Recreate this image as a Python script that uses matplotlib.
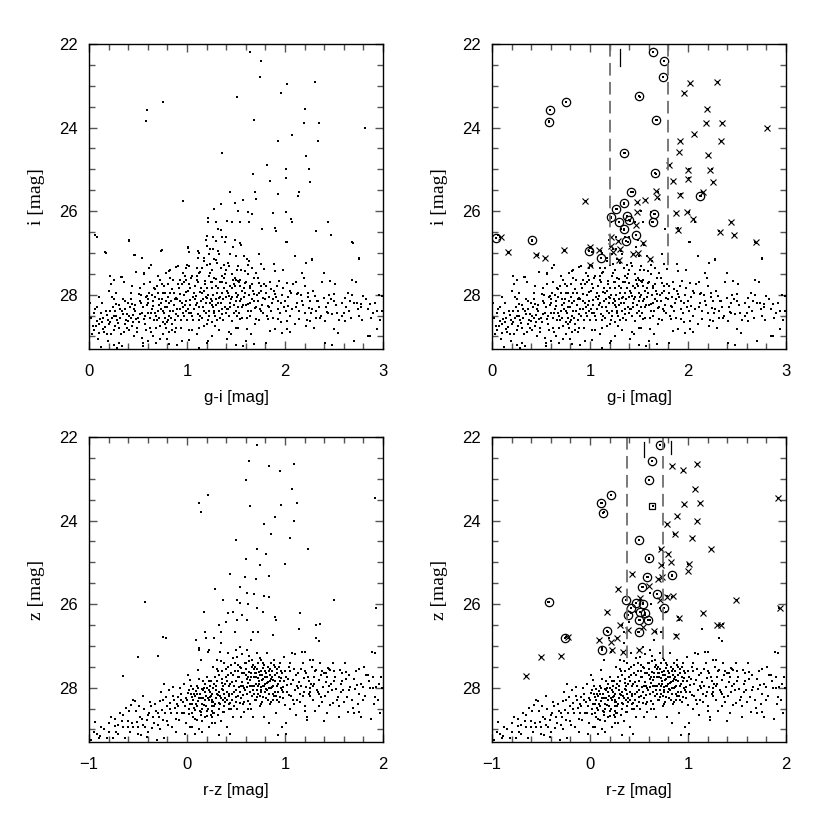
"""
Colour-magnitude diagrams: g-i vs i and r-z vs z, with the
selected candidates (circles, crosses) marked in the right panels.
"""

import numpy as np
import matplotlib
matplotlib.use("Agg")
import matplotlib.pyplot as plt
from matplotlib.ticker import MultipleLocator

plt.rcParams["font.serif"] = ["Liberation Serif", "DejaVu Serif"]
plt.rcParams["font.sans-serif"] = ["Liberation Sans", "DejaVu Sans"]

# ---- top row: g-i [mag], i [mag] -----------------------------------------
gi_i_sparse = [
    (1.64, 22.20), (1.76, 22.40), (1.74, 22.78), (2.02, 22.96), (2.31, 22.92),
    (1.96, 23.18), (1.51, 23.26), (0.76, 23.40), (0.59, 23.57), (0.58, 23.84),
    (2.20, 23.56), (1.68, 23.81), (2.19, 23.90), (2.35, 23.90), (2.82, 24.01),
    (2.07, 24.17), (1.93, 24.32), (2.34, 24.33), (1.36, 24.62), (2.21, 24.67),
    (1.82, 24.90), (2.01, 24.99), (1.67, 25.11), (2.01, 25.21), (1.85, 25.29),
    (2.24, 25.00), (2.25, 25.30), (2.14, 25.55), (2.13, 25.63), (1.69, 25.54),
    (1.70, 25.70), (1.44, 25.55), (1.93, 25.60), (0.96, 25.75), (1.57, 25.74),
    (1.49, 25.80), (1.35, 25.82), (1.28, 25.95), (1.52, 25.99), (1.62, 26.01),
    (1.66, 26.08), (1.88, 26.05), (2.01, 26.01), (2.06, 26.19), (2.07, 26.25),
    (1.21, 26.17), (1.21, 26.27), (1.30, 26.25), (1.41, 26.23), (1.46, 26.27),
    (1.54, 26.27), (1.63, 26.26), (1.77, 26.43), (1.90, 26.41), (1.91, 26.47),
    (1.32, 26.43), (1.35, 26.45), (2.44, 26.27), (2.32, 26.48), (2.47, 26.57),
    (1.20, 26.59), (1.27, 26.63), (1.36, 26.63), (1.40, 26.63), (1.49, 26.70),
    (2.01, 26.73), (2.68, 26.75), (0.08, 26.63), (0.06, 26.57), (0.41, 26.69),
    (0.16, 26.99), (0.46, 27.05), (0.54, 27.11), (0.74, 26.93), (1.01, 26.88),
    (1.02, 26.97), (1.12, 27.00), (1.20, 26.83), (1.23, 26.91), (1.32, 26.95),
    (1.47, 26.87), (2.10, 27.07), (2.28, 27.15), (2.75, 27.15), (0.21, 27.55),
    (0.33, 27.57), (0.26, 27.65), (0.48, 27.45), (0.61, 27.37), (0.56, 27.49),
    (0.83, 27.41), (0.83, 27.59), (0.89, 27.33), (0.99, 27.35), (1.00, 27.29),
    (1.11, 27.13), (1.30, 27.17), (1.61, 27.15), (1.54, 26.77), (1.44, 27.03),
]

gi_i_cloud = [
    (0.41, 26.71), (1.01, 26.85), (1.02, 26.97), (1.11, 26.95), (1.19, 26.69),
    (1.30, 26.71), (1.39, 26.73), (1.47, 26.87), (1.50, 27.07), (0.73, 26.95),
    (0.17, 27.00), (0.47, 27.05), (1.17, 27.11), (1.22, 27.03), (1.27, 26.91),
    (1.33, 27.03), (1.17, 27.19), (1.23, 27.27), (1.31, 27.23), (1.38, 27.29),
    (1.43, 27.32), (1.51, 27.40), (0.91, 27.31), (1.02, 27.32), (1.10, 27.36),
    (0.63, 27.29), (0.82, 27.43), (0.79, 27.47), (0.48, 27.45), (0.56, 27.51),
    (0.70, 27.56), (0.34, 27.57), (0.26, 27.64), (0.22, 27.75), (0.96, 27.48),
    (0.99, 27.64), (1.05, 27.55), (1.12, 27.47), (1.23, 27.47), (1.18, 27.67),
    (1.30, 27.63), (1.36, 27.55), (1.40, 27.71), (1.46, 27.51), (1.50, 27.64),
    (1.49, 27.79), (0.43, 27.95), (0.51, 27.99), (0.59, 28.03), (0.67, 27.87),
    (0.71, 28.11), (0.78, 27.95), (0.85, 27.87), (0.89, 28.07), (0.82, 28.19),
    (0.93, 27.99), (0.99, 27.93), (1.03, 28.12), (1.09, 28.03), (1.13, 27.93),
    (1.20, 28.07), (1.26, 28.15), (1.33, 28.07), (1.36, 27.95), (1.43, 28.04),
    (1.50, 28.15), (0.26, 28.11), (0.28, 28.23), (0.37, 28.15), (0.44, 28.23),
    (0.52, 28.15), (0.60, 28.20), (0.65, 28.27), (0.05, 28.43), (0.14, 28.55),
    (0.18, 28.49), (0.21, 28.39), (0.26, 28.51), (0.34, 28.39), (0.39, 28.47),
    (0.43, 28.55), (0.45, 28.49), (0.52, 28.47), (0.56, 28.59), (0.63, 28.43),
    (0.68, 28.52), (0.73, 28.35), (0.78, 28.55), (0.80, 28.65), (0.83, 28.39),
    (0.89, 28.47), (0.93, 28.35), (0.97, 28.51), (1.02, 28.43), (1.06, 28.60),
    (1.11, 28.47), (1.17, 28.39), (1.22, 28.51), (1.28, 28.39), (1.31, 28.60),
    (1.36, 28.47), (1.41, 28.35), (1.46, 28.63), (1.51, 28.51), (0.07, 28.75),
    (0.10, 28.92), (0.14, 28.83), (0.20, 28.71), (0.31, 28.79), (0.41, 28.84),
    (0.49, 28.89), (0.54, 29.03), (0.68, 28.79), (0.78, 28.71), (0.82, 28.89),
    (0.89, 28.79), (1.02, 28.84), (1.12, 28.79), (1.20, 28.71), (1.29, 28.76),
    (1.43, 28.89), (1.50, 28.79), (0.31, 29.15), (0.34, 29.24), (0.55, 29.24),
    (0.68, 29.15), (0.82, 29.19), (1.02, 29.08), (1.12, 29.27), (1.21, 29.10),
    (1.41, 29.07),
    (1.55, 26.81), (1.73, 27.03), (2.02, 26.73), (2.10, 27.07), (2.69, 26.77),
    (2.28, 27.17), (2.21, 27.24), (1.58, 27.07), (1.63, 27.19), (1.52, 27.31),
    (1.59, 27.43), (1.66, 27.37), (1.70, 27.47), (1.75, 27.27), (1.79, 27.39),
    (1.89, 27.27), (1.90, 27.43), (1.98, 27.41), (2.17, 27.49), (2.19, 27.59),
    (2.40, 27.47), (2.46, 27.67), (2.51, 27.75), (2.68, 27.64), (2.75, 27.13),
    (1.94, 27.67), (2.02, 27.71), (2.11, 27.69), (2.20, 27.79), (1.52, 27.67),
    (1.59, 27.71), (1.64, 27.79), (1.73, 27.71), (1.81, 27.79), (1.86, 27.87),
    (1.56, 27.91), (1.68, 27.99), (1.73, 27.95), (1.78, 28.07), (1.90, 27.99),
    (1.97, 28.01), (2.05, 27.91), (2.12, 27.99), (2.23, 27.95), (2.31, 28.03),
    (2.34, 28.15), (2.40, 28.07), (2.44, 28.19), (2.50, 27.99), (2.61, 28.07),
    (2.66, 28.15), (2.73, 28.19), (2.78, 28.23), (2.80, 28.03), (2.87, 28.23),
    (2.94, 28.39), (2.99, 28.39), (2.99, 28.03), (1.54, 28.15), (1.62, 28.23),
    (1.69, 28.31), (1.75, 28.39), (1.83, 28.27), (1.93, 28.35), (2.03, 28.27),
    (2.14, 28.39), (2.24, 28.31), (2.32, 28.39), (2.43, 28.41), (2.48, 28.47),
    (2.58, 28.51), (2.65, 28.39), (1.54, 28.59), (1.64, 28.51), (1.70, 28.59),
    (1.83, 28.57), (1.88, 28.55), (1.93, 28.59), (2.02, 28.63), (2.14, 28.59),
    (2.26, 28.63), (2.32, 28.55), (2.41, 28.63), (2.61, 28.63), (1.52, 28.79),
    (1.61, 28.83), (1.85, 28.87), (1.90, 28.81), (2.02, 28.83), (2.21, 28.76),
    (2.50, 28.81), (2.94, 28.83), (1.57, 29.23), (1.68, 29.19), (1.81, 29.16),
    (1.97, 28.92), (2.41, 29.16), (2.48, 29.21), (2.54, 28.92), (2.85, 29.00),
    (0.02, 28.55), (0.03, 28.95), (0.08, 28.62), (0.10, 28.70), (0.12, 28.45),
    (0.16, 28.78), (0.19, 28.60), (0.22, 28.95), (0.24, 28.30), (0.25, 29.20),
    (0.28, 28.50), (0.30, 28.68), (0.32, 28.55), (0.35, 28.47), (0.36, 28.90),
    (0.38, 28.60), (0.40, 28.62), (0.42, 28.30), (0.44, 28.75), (0.46, 29.00),
    (0.47, 28.40), (0.48, 28.58), (0.12, 29.25), (0.29, 29.28), (0.20, 27.90),
    (0.52, 27.85), (0.55, 28.30), (0.57, 28.70), (0.58, 28.05), (0.60, 28.45),
    (0.62, 27.70), (0.63, 28.90), (0.65, 28.15), (0.66, 28.60), (0.70, 27.95),
    (0.71, 28.25), (0.72, 28.75), (0.74, 28.10), (0.75, 28.40), (0.76, 28.95),
    (0.77, 27.80), (0.80, 28.30), (0.81, 28.05), (0.84, 28.55), (0.86, 27.65),
    (0.87, 28.25), (0.88, 28.90), (0.90, 28.10), (0.92, 27.85), (0.94, 28.60),
    (0.95, 28.20), (0.97, 28.00), (0.98, 27.55), (0.99, 28.40), (0.60, 29.10),
    (0.72, 29.05), (0.90, 29.20),
    (1.01, 27.90), (1.03, 28.25), (1.04, 27.60), (1.06, 28.05), (1.07, 28.35),
    (1.08, 27.80), (1.10, 28.20), (1.12, 28.60), (1.13, 27.45), (1.14, 28.15),
    (1.15, 27.95), (1.16, 28.30), (1.18, 27.75), (1.19, 28.45), (1.21, 28.00),
    (1.22, 27.55), (1.23, 28.20), (1.25, 27.85), (1.26, 28.65), (1.27, 28.30),
    (1.28, 27.60), (1.30, 28.10), (1.31, 27.95), (1.33, 28.40), (1.34, 27.70),
    (1.35, 28.20), (1.37, 28.60), (1.38, 27.85), (1.39, 27.50), (1.40, 28.05),
    (1.42, 28.35), (1.44, 27.80), (1.45, 28.10), (1.47, 27.65), (1.48, 28.45),
    (1.50, 27.95), (1.52, 28.30), (1.53, 27.70), (1.55, 28.10), (1.56, 28.55),
    (1.58, 27.85), (1.60, 28.25), (1.62, 27.50), (1.63, 28.00), (1.65, 28.40),
    (1.66, 27.75), (1.68, 28.15), (1.69, 28.70), (1.10, 28.95), (1.25, 29.00),
    (1.45, 28.95), (1.60, 29.10), (1.35, 27.35), (1.20, 27.30), (1.55, 27.40),
    (1.72, 27.60), (1.74, 28.35), (1.76, 27.90), (1.80, 28.10), (1.82, 28.50),
    (1.85, 27.70), (1.87, 28.20), (1.91, 28.05), (1.95, 28.45), (1.98, 27.85),
    (2.00, 28.15), (2.05, 28.50), (2.08, 27.75), (2.12, 28.20), (2.16, 28.00),
    (2.20, 28.45), (2.25, 28.15), (2.29, 27.90), (2.35, 28.30), (2.38, 27.70),
    (2.45, 28.00), (2.52, 28.25), (2.55, 28.60), (2.62, 28.30), (2.70, 28.20),
    (2.72, 27.70), (2.76, 28.50), (2.83, 28.10), (2.90, 28.45), (2.96, 28.00),
    (2.05, 28.90), (2.30, 28.80), (2.70, 29.10), (2.87, 29.00),
    (0.01, 28.20), (0.04, 28.75), (0.06, 28.35), (0.09, 29.05), (0.11, 28.58),
    (0.13, 28.20), (0.15, 28.90), (0.17, 28.40), (0.19, 29.10), (0.21, 28.65),
    (0.23, 28.05), (0.26, 28.85), (0.27, 28.40), (0.29, 28.60), (0.31, 28.25),
    (0.33, 28.95), (0.35, 28.10), (0.37, 28.35), (0.39, 28.80), (0.41, 28.50),
    (0.43, 28.10), (0.45, 28.65), (0.47, 28.25), (0.49, 28.80), (0.36, 27.70),
    (0.28, 27.95), (0.10, 28.05), (0.44, 27.80),
    (0.51, 28.65), (0.53, 28.00), (0.54, 28.45), (0.56, 27.75), (0.58, 28.85),
    (0.59, 28.25), (0.61, 27.95), (0.62, 28.55), (0.64, 28.35), (0.66, 27.85),
    (0.67, 28.05), (0.69, 28.60), (0.70, 28.40), (0.72, 27.65), (0.73, 28.20),
    (0.75, 28.65), (0.76, 27.95), (0.78, 28.30), (0.79, 28.80), (0.81, 27.75),
    (0.82, 28.50), (0.84, 28.15), (0.85, 28.85), (0.87, 27.95), (0.88, 28.60),
    (0.90, 28.35), (0.91, 27.75), (0.93, 28.15), (0.94, 28.80), (0.96, 28.45),
    (0.97, 27.70), (0.98, 28.25), (0.55, 29.15), (0.65, 29.00), (0.80, 29.05),
    (0.95, 29.10),
    (1.00, 28.60), (1.02, 27.75), (1.04, 28.45), (1.05, 28.85), (1.07, 27.95),
    (1.09, 28.25), (1.11, 27.70), (1.13, 28.50), (1.14, 27.85), (1.16, 28.10),
    (1.17, 28.75), (1.19, 28.20), (1.20, 27.85), (1.22, 28.40), (1.24, 27.70),
    (1.25, 28.25), (1.27, 28.00), (1.29, 28.50), (1.30, 27.80), (1.32, 28.20),
    (1.34, 28.55), (1.36, 27.70), (1.37, 28.10), (1.39, 28.30), (1.41, 27.90),
    (1.43, 28.50), (1.44, 28.20), (1.46, 27.85), (1.48, 28.25), (1.49, 27.60),
    (1.51, 28.05), (1.53, 28.45), (1.54, 27.80), (1.57, 28.25), (1.59, 27.95),
    (1.61, 28.55), (1.64, 28.20), (1.67, 27.90), (1.20, 29.15), (1.33, 28.85),
    (1.50, 29.20), (1.65, 28.95), (1.28, 27.15), (1.42, 27.25), (1.15, 27.35),
    (1.62, 27.30),
    (1.71, 28.00), (1.73, 28.60), (1.77, 28.25), (1.79, 27.75), (1.84, 28.05),
    (1.86, 28.40), (1.89, 27.90), (1.93, 28.15), (1.96, 28.65), (1.99, 28.30),
    (2.03, 28.05), (2.07, 28.35), (2.10, 28.70), (2.13, 27.95), (2.18, 28.25),
    (2.22, 28.60), (2.27, 28.45), (2.33, 28.15), (2.37, 28.50), (2.42, 28.30),
    (2.47, 28.10), (2.53, 28.45), (2.58, 28.20), (2.64, 27.95), (2.67, 28.55),
    (2.74, 28.35), (2.79, 28.60), (2.85, 28.35), (2.92, 28.20), (2.97, 28.60),
    (0.05, 28.85), (0.08, 28.30), (0.13, 28.65), (0.18, 28.95), (0.23, 28.55),
    (0.27, 28.75), (0.32, 28.35), (0.37, 28.70), (0.40, 28.20), (0.46, 28.35),
    (0.50, 28.55), (0.53, 28.20), (0.57, 28.50), (0.60, 28.10), (0.62, 28.80),
    (0.64, 28.00), (0.67, 28.45), (0.69, 27.80), (0.71, 28.55), (0.74, 27.75),
    (0.77, 28.45), (0.79, 28.15), (0.81, 28.60), (0.83, 27.95), (0.86, 28.40),
    (0.88, 28.10), (0.91, 28.50), (0.93, 27.65), (0.96, 28.30), (0.99, 28.15),
    (1.01, 28.35), (1.03, 27.85), (1.05, 28.50), (1.08, 28.10), (1.10, 27.65),
    (1.12, 28.30), (1.15, 28.55), (1.17, 27.90), (1.19, 28.05), (1.21, 28.60),
    (1.24, 28.10), (1.26, 27.70), (1.28, 28.45), (1.30, 28.25), (1.32, 27.85),
    (1.34, 28.05), (1.36, 28.35), (1.38, 27.60), (1.40, 28.45), (1.42, 27.95),
    (1.44, 28.30), (1.46, 28.05), (1.48, 27.75), (1.50, 28.40), (1.52, 28.00),
    (1.54, 27.65), (1.56, 28.30), (1.58, 28.05), (1.60, 27.70), (1.62, 28.40),
    (1.64, 27.85), (1.66, 28.10), (1.68, 27.60), (1.70, 28.30), (1.72, 28.15),
    (1.75, 27.80), (1.78, 28.45), (1.81, 27.95), (1.84, 28.30), (1.88, 28.10),
    (1.92, 27.80), (1.96, 28.20), (2.01, 28.40), (2.06, 27.95), (2.11, 28.30),
    (2.17, 28.15), (2.23, 28.05), (2.28, 28.35), (2.36, 28.55), (2.44, 28.45),
    (2.50, 28.15), (2.60, 28.45), (2.68, 28.00), (2.78, 28.30), (2.88, 28.55),
    (1.25, 27.40), (1.40, 27.40), (1.10, 27.55), (0.95, 27.75), (0.85, 28.70),
]

gi_i_circles = [
    (1.64, 22.18), (1.76, 22.40), (1.74, 22.80), (1.50, 23.25), (0.76, 23.40),
    (0.59, 23.57), (0.58, 23.86), (1.67, 23.81), (1.35, 24.62), (1.66, 25.09),
    (1.42, 25.55), (1.35, 25.81), (1.27, 25.95), (1.38, 26.11), (1.65, 26.07),
    (1.64, 26.27), (1.21, 26.15), (1.30, 26.26), (1.35, 26.42), (1.37, 26.71),
    (1.47, 26.57), (2.12, 25.63), (0.04, 26.65), (0.41, 26.69), (0.99, 26.95),
    (1.11, 27.13), (1.40, 26.21),
]

gi_i_crosses = [
    (2.02, 22.94), (2.30, 22.92), (1.96, 23.18), (2.19, 23.56), (2.18, 23.89),
    (2.35, 23.90), (2.81, 24.01), (2.06, 24.16), (1.92, 24.32), (2.34, 24.33),
    (1.91, 24.58), (2.20, 24.66), (1.81, 24.90), (2.00, 25.01), (2.22, 25.02),
    (2.00, 25.22), (2.26, 25.30), (1.85, 25.29), (1.92, 25.61), (2.15, 25.54),
    (1.67, 25.51), (1.68, 25.67), (1.56, 25.73), (1.48, 25.79), (0.95, 25.75),
    (1.88, 26.05), (1.99, 26.02), (2.05, 26.19), (1.48, 26.03), (1.47, 26.34),
    (1.90, 26.46), (2.33, 26.49), (2.44, 26.27), (2.47, 26.57), (2.69, 26.75),
    (1.21, 26.61), (1.29, 26.71), (1.54, 26.77), (1.21, 26.83), (1.31, 26.91),
    (1.44, 27.03), (1.49, 27.00), (1.30, 27.17), (1.61, 27.15), (1.00, 26.87),
    (1.09, 26.93), (1.00, 27.29), (0.45, 27.05), (0.54, 27.11), (0.73, 26.93),
    (0.16, 26.97), (0.09, 26.61), (1.23, 26.99),
]

gi_cuts = [1.2, 1.8]
gi_bar = (1.31, 22.12, 22.52)

# ---- bottom row: r-z [mag], z [mag] -------------------------------------
rz_z_sparse = [
    (0.71, 22.18), (0.63, 22.57), (0.84, 22.70), (0.95, 22.81), (1.09, 22.65),
    (0.60, 23.04), (1.07, 23.25), (0.21, 23.38), (0.12, 23.58), (0.14, 23.80),
    (0.64, 23.64), (0.96, 23.62), (1.12, 23.57), (1.92, 23.46), (0.90, 23.91),
    (1.09, 24.00), (0.79, 24.09), (0.86, 24.33), (1.05, 24.41), (0.50, 24.47),
    (1.23, 24.67), (0.71, 24.69), (0.81, 24.80), (0.60, 24.91), (0.74, 25.07),
    (1.00, 25.05), (0.44, 25.27), (0.59, 25.35), (0.84, 25.32), (0.70, 25.41),
    (0.54, 25.59), (0.29, 25.64), (0.61, 25.73), (0.68, 25.75), (0.37, 25.89),
    (0.51, 25.90), (0.79, 25.81), (0.84, 25.82), (-0.43, 25.94), (1.50, 25.90),
    (1.93, 26.10), (0.54, 25.98), (0.62, 26.00), (0.71, 26.10), (0.78, 26.18),
    (0.17, 26.18), (1.15, 26.21), (0.42, 26.22), (0.47, 26.18), (0.56, 26.26),
    (0.33, 26.49), (0.40, 26.42), (0.51, 26.38), (0.61, 26.38), (0.91, 26.37),
    (0.90, 26.30), (1.32, 26.50), (1.36, 26.48), (1.14, 26.60), (0.18, 26.66),
    (0.35, 26.66), (0.49, 26.66), (0.67, 26.66), (0.72, 26.66), (0.88, 26.74),
    (1.32, 26.80), (1.35, 26.88), (-0.24, 26.78), (-0.21, 26.80), (0.12, 27.10),
    (-0.30, 27.24), (-0.50, 27.27), (-0.65, 27.71), (0.09, 26.86), (0.22, 27.10),
    (0.28, 26.82), (0.34, 27.14), (0.50, 27.10), (1.10, 27.20), (1.20, 27.15),
    (1.89, 27.15), (1.38, 27.60), (1.45, 27.55), (1.62, 27.62), (1.75, 27.55),
]

rz_z_cloud = [
    (-0.94, 28.81), (-0.92, 29.11), (-0.89, 29.16), (-0.76, 29.21), (-0.73, 28.76),
    (-0.73, 28.92), (-0.65, 28.65), (-0.65, 28.95), (-0.60, 28.79), (-0.62, 28.49),
    (-0.57, 28.41), (-0.53, 28.33), (-0.55, 28.93), (-0.51, 28.81), (-0.48, 28.69),
    (-0.45, 28.89), (-0.47, 29.13), (-0.41, 28.77), (-0.39, 28.61), (-0.37, 28.45),
    (-0.36, 28.97), (-0.34, 28.85), (-0.31, 29.25), (-0.29, 28.69), (-0.28, 28.33),
    (-0.26, 28.53), (-0.24, 28.77), (-0.23, 27.90), (-0.21, 28.22), (-0.19, 28.89),
    (-0.17, 28.37), (-0.16, 28.61), (-0.14, 27.98), (-0.12, 28.49), (-0.09, 28.22),
    (-0.08, 28.77), (-0.06, 28.30), (-0.05, 28.61), (-0.03, 27.90), (-0.02, 28.45),
    (-0.01, 28.85), (-0.11, 29.05), (-0.23, 29.21), (-0.41, 29.17),
    (0.01, 27.70), (0.03, 27.82), (0.04, 28.14), (0.06, 28.30), (0.08, 28.53),
    (0.10, 28.77), (0.03, 28.93), (0.11, 27.58), (0.12, 27.06), (0.14, 27.34),
    (0.15, 28.02), (0.16, 28.25), (0.17, 28.41), (0.18, 28.69), (0.20, 27.74),
    (0.19, 26.82), (0.21, 27.14), (0.22, 28.06), (0.23, 28.22), (0.25, 28.45),
    (0.27, 27.50), (0.27, 28.61), (0.28, 27.90), (0.29, 28.85), (0.31, 27.34),
    (0.32, 28.18), (0.33, 28.37), (0.33, 27.70), (0.35, 26.94), (0.36, 28.02),
    (0.37, 28.30), (0.37, 28.57), (0.38, 27.42), (0.39, 27.90), (0.41, 28.93),
    (0.42, 27.18), (0.43, 28.14), (0.44, 28.37), (0.45, 27.66), (0.46, 27.86),
    (0.47, 28.69), (0.49, 27.42), (0.50, 28.22), (0.44, 29.11), (0.33, 29.13),
    (0.51, 27.26), (0.52, 27.74), (0.53, 27.98), (0.54, 28.37), (0.54, 27.02),
    (0.55, 27.54), (0.56, 27.86), (0.57, 28.18), (0.58, 28.57), (0.59, 27.42),
    (0.60, 27.70), (0.61, 27.98), (0.61, 27.10), (0.62, 28.31), (0.63, 27.62),
    (0.64, 27.82), (0.65, 26.86), (0.66, 27.34), (0.67, 28.06), (0.67, 28.69),
    (0.68, 27.74), (0.69, 27.50), (0.70, 27.90), (0.71, 28.22), (0.71, 27.18),
    (0.72, 27.78), (0.73, 27.62), (0.74, 28.45), (0.75, 27.98), (0.76, 27.34),
    (0.77, 27.82), (0.78, 28.22), (0.78, 27.54), (0.79, 28.69), (0.80, 27.74),
    (0.81, 28.02), (0.82, 27.18), (0.83, 27.86), (0.84, 28.14), (0.84, 28.85),
    (0.85, 27.70), (0.86, 27.42), (0.87, 27.98), (0.88, 28.30), (0.88, 27.82),
    (0.89, 27.34), (0.90, 28.10), (0.91, 28.61), (0.92, 27.66), (0.93, 27.90),
    (0.94, 27.50), (0.95, 28.22), (0.96, 27.78), (0.97, 28.93), (0.98, 27.98),
    (0.99, 27.26), (1.00, 28.41), (0.93, 29.13), (1.01, 29.11),
    (1.01, 27.74), (1.02, 27.94), (1.04, 28.18), (1.05, 27.42), (1.07, 27.18),
    (1.08, 27.82), (1.10, 28.06), (1.12, 28.30), (1.13, 27.66), (1.14, 27.86),
    (1.15, 28.14), (1.17, 27.14), (1.18, 27.42), (1.19, 27.78), (1.20, 28.45),
    (1.21, 27.98), (1.22, 28.69), (1.23, 27.74), (1.24, 28.14), (1.26, 27.34),
    (1.27, 27.90), (1.29, 28.30), (1.30, 27.74), (1.32, 27.58), (1.33, 28.06),
    (1.35, 27.82), (1.36, 27.42), (1.37, 28.22), (1.39, 27.98), (1.40, 27.66),
    (1.42, 27.86), (1.44, 28.10), (1.46, 27.58), (1.47, 27.90), (1.49, 28.37),
    (1.51, 27.74), (1.52, 28.02), (1.54, 28.22), (1.56, 27.58), (1.57, 27.90),
    (1.59, 28.06), (1.61, 27.42), (1.63, 28.22), (1.66, 27.98), (1.69, 28.49),
    (1.71, 28.02), (1.73, 27.94), (1.76, 28.57), (1.78, 28.69), (1.80, 27.98),
    (1.81, 27.50), (1.83, 27.70), (1.85, 27.70), (1.90, 27.74), (1.92, 27.18),
    (1.92, 28.22), (1.93, 27.98), (1.97, 28.61), (1.98, 27.74), (1.35, 28.45),
    (1.46, 28.41), (1.01, 28.85), (1.22, 28.77), (1.44, 27.54), (1.49, 27.42),
    (1.29, 27.34), (1.64, 28.57),
    (0.30, 28.05), (0.32, 27.60), (0.34, 28.40), (0.36, 27.80), (0.38, 28.15),
    (0.40, 27.55), (0.41, 28.30), (0.43, 27.95), (0.45, 28.50), (0.47, 27.70),
    (0.48, 28.10), (0.50, 27.85), (0.52, 28.20), (0.54, 27.50), (0.55, 27.95),
    (0.57, 28.40), (0.58, 27.65), (0.59, 28.05), (0.61, 27.80), (0.62, 28.50),
    (0.63, 27.35), (0.64, 28.10), (0.65, 27.65), (0.66, 27.95), (0.68, 27.55),
    (0.69, 28.30), (0.70, 27.75), (0.71, 28.05), (0.72, 27.40), (0.73, 27.90),
    (0.74, 28.20), (0.75, 27.60), (0.76, 28.40), (0.77, 27.70), (0.78, 27.95),
    (0.79, 27.45), (0.80, 28.10), (0.81, 27.65), (0.82, 27.88), (0.83, 28.30),
    (0.85, 27.55), (0.86, 28.00), (0.87, 27.75), (0.89, 28.20), (0.90, 27.50),
    (0.92, 27.95), (0.94, 28.35), (0.96, 27.60), (0.97, 28.05),
    (0.00, 28.30), (0.02, 28.05), (0.05, 28.60), (0.07, 28.15), (0.09, 28.40),
    (0.11, 28.00), (0.13, 28.55), (0.14, 28.25), (0.16, 27.85), (0.18, 28.10),
    (0.19, 28.45), (0.21, 28.25), (0.23, 27.95), (0.24, 28.65), (0.26, 28.15),
    (0.27, 28.35), (0.29, 27.75), (0.05, 28.95), (0.15, 29.05), (0.25, 28.85),
    (-0.98, 29.25), (-0.85, 29.00), (-0.80, 28.85), (-0.70, 29.10), (-0.68, 28.60),
    (-0.58, 29.05), (-0.52, 28.55), (-0.44, 28.50), (-0.40, 29.05), (-0.33, 28.40),
    (-0.30, 28.90), (-0.27, 28.10), (-0.22, 28.60), (-0.18, 28.05), (-0.15, 28.95),
    (-0.13, 28.30), (-0.10, 28.60), (-0.07, 28.00), (-0.04, 28.35), (-0.02, 29.10),
    (-0.55, 28.30), (-0.45, 28.20),
    (1.05, 27.60), (1.09, 28.40), (1.16, 27.95), (1.25, 28.00), (1.31, 28.55),
    (1.38, 28.35), (1.45, 27.95), (1.55, 28.45), (1.62, 27.80), (1.68, 28.30),
    (1.75, 28.15), (1.87, 28.00), (1.95, 28.30), (1.99, 28.00), (1.88, 28.75),
    (1.11, 28.65), (1.18, 28.20), (1.28, 27.50), (1.43, 28.60), (1.58, 27.65),
    (0.31, 27.55), (0.33, 28.10), (0.35, 27.35), (0.37, 27.95), (0.39, 28.25),
    (0.40, 27.75), (0.42, 27.50), (0.43, 28.50), (0.44, 27.90), (0.46, 28.15),
    (0.47, 27.30), (0.49, 27.60), (0.50, 28.05), (0.51, 28.50), (0.52, 27.45),
    (0.53, 27.75), (0.55, 28.25), (0.56, 27.20), (0.57, 27.95), (0.58, 28.35),
    (0.60, 27.55), (0.61, 28.15), (0.62, 27.88), (0.63, 27.25), (0.64, 28.40),
    (0.65, 27.75), (0.66, 28.20), (0.67, 27.45), (0.68, 27.95), (0.69, 27.65),
    (0.70, 28.30), (0.71, 27.55), (0.72, 28.15), (0.73, 27.85), (0.74, 27.30),
    (0.75, 28.05), (0.76, 27.70), (0.77, 28.35), (0.78, 27.40), (0.79, 27.95),
    (0.80, 27.60), (0.81, 28.25), (0.82, 27.75), (0.83, 27.50), (0.84, 28.00),
    (0.85, 27.85), (0.86, 28.35), (0.87, 27.60), (0.88, 27.95), (0.89, 27.45),
    (0.90, 27.85), (0.91, 28.20), (0.92, 27.55), (0.93, 28.10), (0.94, 27.75),
    (0.95, 27.40), (0.96, 28.00), (0.97, 27.65), (0.98, 28.25), (0.99, 27.85),
    (0.02, 28.50), (0.04, 27.95), (0.06, 28.70), (0.08, 28.20), (0.10, 28.45),
    (0.12, 27.80), (0.14, 28.65), (0.16, 28.05), (0.18, 28.30), (0.20, 28.55),
    (0.22, 27.85), (0.24, 28.20), (0.26, 28.70), (0.28, 28.45), (0.30, 28.25),
    (0.12, 29.00), (0.22, 28.95), (0.08, 29.10),
    (-0.95, 29.05), (-0.88, 28.95), (-0.82, 29.20), (-0.78, 28.70), (-0.72, 29.05),
    (-0.66, 28.80), (-0.63, 29.20), (-0.59, 28.55), (-0.56, 28.85), (-0.50, 29.10),
    (-0.49, 28.45), (-0.46, 28.75), (-0.43, 28.95), (-0.38, 28.35), (-0.35, 28.70),
    (-0.32, 28.55), (-0.28, 29.00), (-0.25, 28.30), (-0.20, 28.80), (-0.17, 28.50),
    (-0.14, 28.20), (-0.11, 28.75), (-0.09, 28.45), (-0.06, 28.15), (-0.03, 28.60),
    (-0.01, 28.25),
    (1.02, 28.10), (1.04, 27.50), (1.06, 27.90), (1.08, 28.30), (1.11, 27.70),
    (1.13, 28.00), (1.16, 27.55), (1.19, 28.10), (1.21, 27.65), (1.24, 27.85),
    (1.26, 28.20), (1.29, 27.95), (1.31, 27.60), (1.34, 28.10), (1.37, 27.70),
    (1.41, 28.20), (1.43, 27.75), (1.48, 28.05), (1.50, 27.60), (1.53, 28.30),
    (1.58, 27.85), (1.60, 28.35), (1.65, 27.70), (1.70, 27.80), (1.74, 28.40),
    (1.78, 27.90), (1.82, 28.20), (1.86, 27.85), (1.91, 28.40), (1.96, 27.90),
    (1.55, 28.70), (1.20, 28.55), (1.40, 28.80), (1.70, 28.60),
    (0.05, 28.40), (0.10, 28.15), (0.15, 28.50), (0.20, 28.00), (0.25, 28.30),
    (0.28, 28.60), (0.31, 27.85), (0.34, 28.20), (0.36, 27.60), (0.38, 28.45),
    (0.41, 27.85), (0.43, 28.20), (0.45, 27.45), (0.48, 27.95), (0.50, 28.35),
    (0.52, 27.60), (0.54, 28.10), (0.56, 27.65), (0.58, 28.00), (0.60, 27.40),
    (0.62, 27.75), (0.64, 27.95), (0.66, 27.50), (0.68, 28.15), (0.70, 27.65),
    (0.72, 27.95), (0.74, 27.70), (0.76, 28.10), (0.78, 27.80), (0.80, 27.90),
    (0.82, 28.05), (0.84, 27.60), (0.86, 27.80), (0.88, 28.15), (0.90, 27.70),
    (0.92, 28.30), (0.95, 27.85), (0.98, 28.10), (1.00, 27.60), (1.03, 27.80),
    (1.06, 28.20), (1.09, 27.55), (1.12, 27.95), (1.15, 28.35), (1.20, 27.60),
    (1.25, 28.10), (1.30, 27.90), (1.35, 28.15), (1.42, 27.65), (1.50, 27.85),
    (1.57, 28.10), (1.65, 28.05), (1.72, 27.60), (1.80, 28.30), (1.90, 28.00),
    (-0.10, 28.40), (-0.20, 28.45), (-0.30, 28.60), (-0.40, 28.65), (-0.50, 28.95),
    (-0.60, 28.95), (-0.70, 28.90), (-0.80, 29.05), (-0.90, 29.20), (0.15, 28.80),
    (0.35, 28.80), (0.55, 28.70), (0.65, 28.50), (0.85, 28.40), (1.05, 28.50),
    (0.01, 28.12), (0.03, 28.38), (0.05, 28.22), (0.07, 28.48), (0.09, 28.08),
    (0.11, 28.32), (0.13, 28.15), (0.15, 28.40), (0.17, 28.00), (0.19, 28.20),
    (0.21, 28.50), (0.23, 28.10), (0.25, 28.35), (0.27, 28.00), (0.29, 28.40),
    (0.31, 28.15), (0.33, 28.50), (0.35, 28.25), (0.37, 28.05), (0.39, 28.35),
    (0.41, 28.10), (0.43, 28.40), (0.02, 28.62), (0.08, 28.75), (0.14, 28.58),
    (0.20, 28.68), (0.26, 28.55), (0.32, 28.65), (0.38, 28.58), (0.10, 27.95),
    (0.18, 27.90), (0.24, 27.85), (0.30, 27.95), (0.36, 27.88), (0.42, 27.70),
    (0.46, 28.30), (0.48, 28.45), (0.06, 28.02), (0.12, 28.25), (0.22, 28.30),
]

rz_z_circles = [
    (0.71, 22.18), (0.63, 22.58), (0.60, 23.04), (0.21, 23.38), (0.11, 23.58),
    (0.13, 23.82), (0.50, 24.47), (0.60, 24.89), (0.58, 25.35), (0.84, 25.31),
    (0.53, 25.60), (0.68, 25.75), (0.37, 25.89), (0.42, 26.09), (0.47, 25.98),
    (0.54, 26.00), (0.56, 26.21), (0.51, 26.18), (0.50, 26.38), (0.59, 26.37),
    (0.75, 26.10), (-0.42, 25.94), (-0.26, 26.80), (0.17, 26.65), (0.12, 27.10),
    (0.50, 26.66), (0.39, 26.26),
]
rz_z_squares = [(0.63, 23.65)]

rz_z_crosses = [
    (0.84, 22.70), (0.95, 22.80), (1.09, 22.65), (1.07, 23.25), (1.12, 23.58),
    (0.96, 23.61), (1.92, 23.46), (0.89, 23.90), (0.79, 24.09), (1.09, 24.01),
    (0.87, 24.33), (1.04, 24.41), (1.23, 24.67), (0.72, 24.69), (0.80, 24.79),
    (0.83, 24.99), (0.72, 25.07), (1.01, 25.05), (1.00, 25.21), (0.43, 25.27),
    (0.69, 25.41), (0.73, 25.35), (0.60, 25.57), (0.29, 25.64), (0.79, 25.82),
    (0.85, 25.80), (0.51, 25.86), (0.71, 25.90), (1.49, 25.90), (1.94, 26.10),
    (1.15, 26.21), (0.17, 26.18), (0.91, 26.34), (0.31, 26.49), (0.39, 26.62),
    (0.54, 26.54), (0.65, 26.65), (1.30, 26.50), (1.34, 26.50), (0.88, 26.77),
    (-0.22, 26.78), (0.09, 26.86), (0.21, 26.90), (0.28, 26.82), (0.22, 27.10),
    (-0.30, 27.24), (-0.50, 27.27), (-0.65, 27.71), (0.34, 27.14), (0.50, 27.10),
]

rz_cuts = [0.38, 0.74]
rz_bars = [(0.55, 22.13, 22.48), (0.83, 22.10, 22.40)]

Y_RANGE = (29.3, 22.0)
DOT_KW = dict(ls="none", marker="s", ms=2.1, mfc="black", mec="black", mew=0)
CUT_COLOR = "#6e6e6e"


def style_axes(ax, xlim, xlabel, ylabel):
    ax.set_xlim(*xlim)
    ax.set_ylim(*Y_RANGE)
    ax.xaxis.set_major_locator(MultipleLocator(1))
    ax.xaxis.set_minor_locator(MultipleLocator(0.2))
    ax.yaxis.set_major_locator(MultipleLocator(2))
    ax.yaxis.set_minor_locator(MultipleLocator(0.5))
    ax.tick_params(which="both", direction="in", top=True, right=True,
                   color="#555555", width=1.0)
    ax.tick_params(which="major", length=6, labelsize=12)
    ax.tick_params(which="minor", length=4)
    ax.tick_params(axis="x", which="major", pad=11)
    ax.tick_params(axis="y", which="major", pad=8)
    for lab in ax.get_xticklabels() + ax.get_yticklabels():
        lab.set_fontfamily("sans-serif")
    for sp in ax.spines.values():
        sp.set_linewidth(1.0)
    ax.set_xlabel(xlabel, fontsize=12, fontfamily="sans-serif", labelpad=8)
    ax.set_ylabel(ylabel, fontsize=14, fontfamily="serif", labelpad=10)


def draw_dots(ax, *groups):
    for pts in groups:
        xy = np.array(pts).T
        ax.plot(xy[0], xy[1], **DOT_KW)


def draw_selection(ax, circles, crosses, cuts, bars, squares=()):
    c = np.array(circles).T
    ax.plot(c[0], c[1], ls="none", marker="o", ms=6, mfc="none",
            mec="black", mew=0.9)
    ax.plot(c[0], c[1], ls="none", marker="s", ms=1.7, mfc="black", mew=0)
    if squares:
        s = np.array(squares).T
        ax.plot(s[0], s[1], ls="none", marker="s", ms=5, mfc="none",
                mec="black", mew=0.9)
    k = np.array(crosses).T
    ax.plot(k[0], k[1], ls="none", marker="x", ms=5, mec="black", mew=0.8)
    for xc in cuts:
        ax.plot([xc, xc], [22.0, 27.38], color=CUT_COLOR, lw=1.3,
                dashes=(7, 3.5))
    for xb, y0, y1 in bars:
        ax.plot([xb, xb], [y0, y1], color="black", lw=0.9)


fig = plt.figure(figsize=(8.3, 8.3), dpi=100)
W, H = 294 / 830, 305 / 830
ax_tl = fig.add_axes([89 / 830, 1 - 349 / 830, W, H])
ax_tr = fig.add_axes([492 / 830, 1 - 349 / 830, W, H])
ax_bl = fig.add_axes([89 / 830, 1 - 742 / 830, W, H])
ax_br = fig.add_axes([492 / 830, 1 - 742 / 830, W, H])

draw_dots(ax_tl, gi_i_sparse, gi_i_cloud)
draw_dots(ax_tr, gi_i_sparse, gi_i_cloud)
draw_selection(ax_tr, gi_i_circles, gi_i_crosses, gi_cuts, [gi_bar])

draw_dots(ax_bl, rz_z_sparse, rz_z_cloud)
draw_dots(ax_br, rz_z_sparse, rz_z_cloud)
draw_selection(ax_br, rz_z_circles, rz_z_crosses, rz_cuts, rz_bars,
               squares=rz_z_squares)

for ax in (ax_tl, ax_tr):
    style_axes(ax, (0, 3), "g-i [mag]", "i [mag]")
for ax in (ax_bl, ax_br):
    style_axes(ax, (-1, 2), "r-z [mag]", "z [mag]")

fig.savefig("out.png", dpi=100)
plt.close(fig)
